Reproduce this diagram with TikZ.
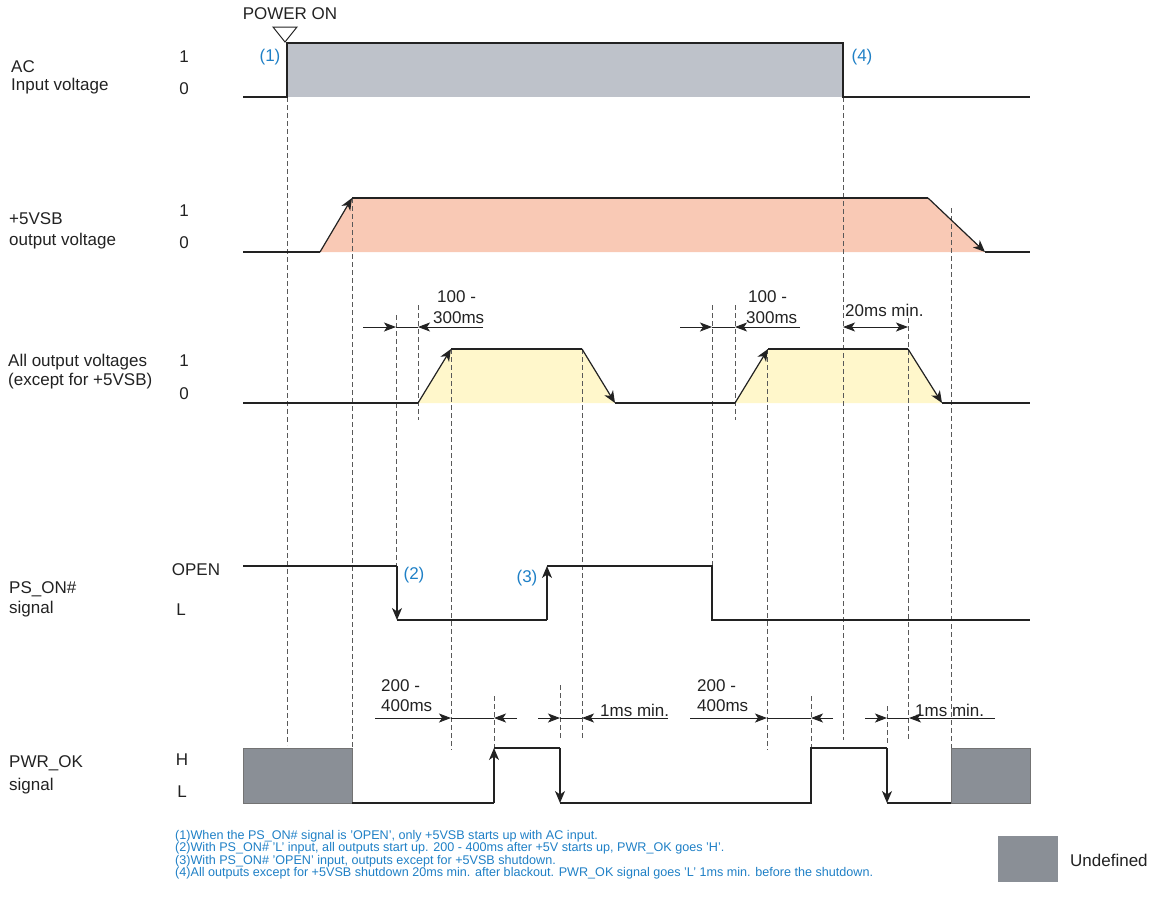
\documentclass[tikz,border=0pt]{standalone}
\usepackage{fontspec}
\setmainfont{Liberation Sans}
\usetikzlibrary{arrows.meta}
\definecolor{acfill}{HTML}{BEC2CA}
\definecolor{vsbfill}{HTML}{F9C9B5}
\definecolor{outfill}{HTML}{FFF7CB}
\definecolor{undef}{HTML}{8A8F96}
\definecolor{noteblue}{HTML}{1F80C6}
\definecolor{sigcol}{HTML}{222222}
\newcommand\lblfont{\fontsize{17}{20}\selectfont}
\newcommand\notefont{\fontsize{12.6}{14}\selectfont}
\begin{document}
\begin{tikzpicture}[x=1pt,y=-1pt,
  every node/.style={inner sep=0pt,font=\lblfont,text=sigcol},
  lbl/.style={anchor=west},
  num/.style={anchor=center},
  blue/.style={anchor=center,text=noteblue},
  note/.style={anchor=west,text=noteblue,font=\notefont},
  sig/.style={draw=sigcol,line width=1.2pt},
  tip/.style={-{Stealth[length=12pt,width=10pt,inset=3.5pt]}},
  dimtip/.style={-{Stealth[length=12pt,width=9pt,inset=3pt]}},
  dim/.style={draw=sigcol,line width=0.9pt},
  guide/.style={draw=black!65,line width=0.8pt,dash pattern=on 5pt off 3pt},
  undefbox/.style={fill=undef,draw=black!55,line width=0.8pt}]
\useasboundingbox (0,0) rectangle (1153,897);

% ---------- fills ----------
\fill[acfill] (287,43) rectangle (843,97);
\fill[vsbfill] (320,252) -- (352,198) -- (928,198) -- (985,252) -- cycle;
\fill[outfill] (418,403) -- (451,349) -- (582,349) -- (615,403) -- cycle;
\fill[outfill] (735,403) -- (768,349) -- (908,349) -- (942,403) -- cycle;

% ---------- guide lines ----------
\foreach \x/\ya/\yb in {287/97/745, 352/198/748, 396/315/566, 418/305/420,
  451/349/750, 494/696/748, 560/685/739, 582/349/738, 712/305/566,
  735/305/420, 767/349/750, 811/696/748, 843/97/740, 887/706/745,
  908/318/739, 951/208/748}
  \draw[guide] (\x,\ya) -- (\x,\yb);

% ---------- AC input ----------
\draw[sig] (243,97) -- (287,97) -- (287,43) -- (843,43) -- (843,97) -- (1030,97);
\draw[line width=1pt,draw=sigcol] (273,27) -- (297,27) -- (285,42) -- cycle;
\node (pwron) at (290,14) {POWER ON};
\node[blue] (n1) at (270,57) {(1)};
\node[blue] (n4) at (862,57) {(4)};

% ---------- +5VSB ----------
\draw[sig] (243,252) -- (320,252);
\draw[sig,tip] (320,252) -- (352,198);
\draw[sig] (352,198) -- (928,198);
\draw[sig,tip] (928,198) -- (985,252);
\draw[sig] (985,252) -- (1030,252);

% ---------- all outputs ----------
\draw[sig] (243,403) -- (418,403);
\draw[sig,tip] (418,403) -- (451,349);
\draw[sig] (451,349) -- (582,349);
\draw[sig,tip] (582,349) -- (615,403);
\draw[sig] (615,403) -- (735,403);
\draw[sig,tip] (735,403) -- (768,349);
\draw[sig] (768,349) -- (908,349);
\draw[sig,tip] (908,349) -- (942,403);
\draw[sig] (942,403) -- (1030,403);

% ---------- PS_ON# ----------
\draw[sig] (243,566) -- (397,566);
\draw[sig,tip] (397,566) -- (397,620);
\draw[sig] (397,620) -- (547,620);
\draw[sig,tip] (547,620) -- (547,566);
\draw[sig] (547,566) -- (712,566) -- (712,620) -- (1030,620);
\node[blue] (n2) at (414,575) {(2)};
\node[blue] (n3) at (527,578) {(3)};

% ---------- PWR_OK ----------
\draw[undefbox] (243,748) rectangle (352,803);
\draw[undefbox] (951,748) rectangle (1030,803);
\draw[sig] (352,803) -- (494,803);
\draw[sig,tip] (494,803) -- (494,748);
\draw[sig] (494,748) -- (560,748);
\draw[sig,tip] (560,748) -- (560,803);
\draw[sig] (560,803) -- (811,803) -- (811,748) -- (887,748);
\draw[sig,tip] (887,748) -- (887,803);
\draw[sig] (887,803) -- (951,803);

% ---------- dimensions ----------
\draw[dim,dimtip] (363,327) -- (396,327);
\draw[dim] (396,327) -- (418,327);
\draw[dim,dimtip] (483,327) -- (418,327);
\node[lbl] (d1a) at (437,297) {100 -};
\node[lbl] (d1b) at (433,318) {300ms};

\draw[dim,dimtip] (680,327) -- (712,327);
\draw[dim] (712,327) -- (735,327);
\draw[dim,dimtip] (800,327) -- (735,327);
\node[lbl] (d2a) at (748,297) {100 -};
\node[lbl] (d2b) at (746,318) {300ms};

\draw[dim,{Stealth[length=12pt,width=9pt,inset=3pt]}-{Stealth[length=12pt,width=9pt,inset=3pt]}] (843,327) -- (908,327);
\node[lbl] (d3) at (845,310) {20ms min.};

\draw[dim,dimtip] (375,718) -- (451,718);
\draw[dim] (451,718) -- (494,718);
\draw[dim,dimtip] (517,718) -- (494,718);
\node[lbl] (d4a) at (381,686) {200 -};
\node[lbl] (d4b) at (381,706) {400ms};

\draw[dim,dimtip] (690,718) -- (767,718);
\draw[dim] (767,718) -- (811,718);
\draw[dim,dimtip] (833,718) -- (811,718);
\node[lbl] (d5a) at (697,686) {200 -};
\node[lbl] (d5b) at (697,706) {400ms};

\draw[dim,dimtip] (538,718) -- (560,718);
\draw[dim] (560,718) -- (582,718);
\draw[dim,dimtip] (668,718) -- (582,718);
\node[lbl] (d6) at (600,710) {1ms min.};

\draw[dim,dimtip] (865,718) -- (887,718);
\draw[dim] (887,718) -- (909,718);
\draw[dim,dimtip] (995,718) -- (909,718);
\node[lbl] (d7) at (915,710) {1ms min.};

% ---------- left labels ----------
\node[lbl] (l1a) at (11,67) {AC};
\node[lbl] (l1b) at (11,86) {Input voltage};
\node[num] (v11) at (184,57) {1};
\node[num] (v10) at (184,89) {0};

\node[lbl] (l2a) at (9,219) {+5VSB};
\node[lbl] (l2b) at (9,241) {output voltage};
\node[num] (v21) at (184,211) {1};
\node[num] (v20) at (184,243) {0};

\node[lbl] (l3a) at (8,362) {All output voltages};
\node[lbl] (l3b) at (8,381) {(except for +5VSB)};
\node[num] (v31) at (184,361) {1};
\node[num] (v30) at (184,394) {0};

\node[num] (v4o) at (196,570) {OPEN};
\node[lbl] (l4a) at (9,589) {PS\_ON\#};
\node[lbl] (l4b) at (9,609) {signal};
\node[num] (v4l) at (181,610) {L};

\node[lbl] (l5a) at (9,763) {PWR\_OK};
\node[lbl] (l5b) at (9,786) {signal};
\node[num] (v5h) at (182,760) {H};
\node[num] (v5l) at (182,792) {L};

% ---------- notes ----------
\node[note] (f1) at (175,836) {(1)When the PS\_ON\# signal is 'OPEN', only +5VSB starts up with AC input.};
\node[note] (f2) at (175,848.5) {(2)With PS\_ON\# 'L' input, all outputs start up. 200 - 400ms after +5V starts up, PWR\_OK goes 'H'.};
\node[note] (f3) at (175,861) {(3)With PS\_ON\# 'OPEN' input, outputs except for +5VSB shutdown.};
\node[note] (f4) at (175,873.5) {(4)All outputs except for +5VSB shutdown 20ms min. after blackout. PWR\_OK signal goes 'L' 1ms min. before the shutdown.};

% ---------- legend ----------
\fill[undef] (998,836) rectangle (1058,882);
\node[lbl] (undeftxt) at (1070,860) {Undefined};
\end{tikzpicture}
\end{document}
